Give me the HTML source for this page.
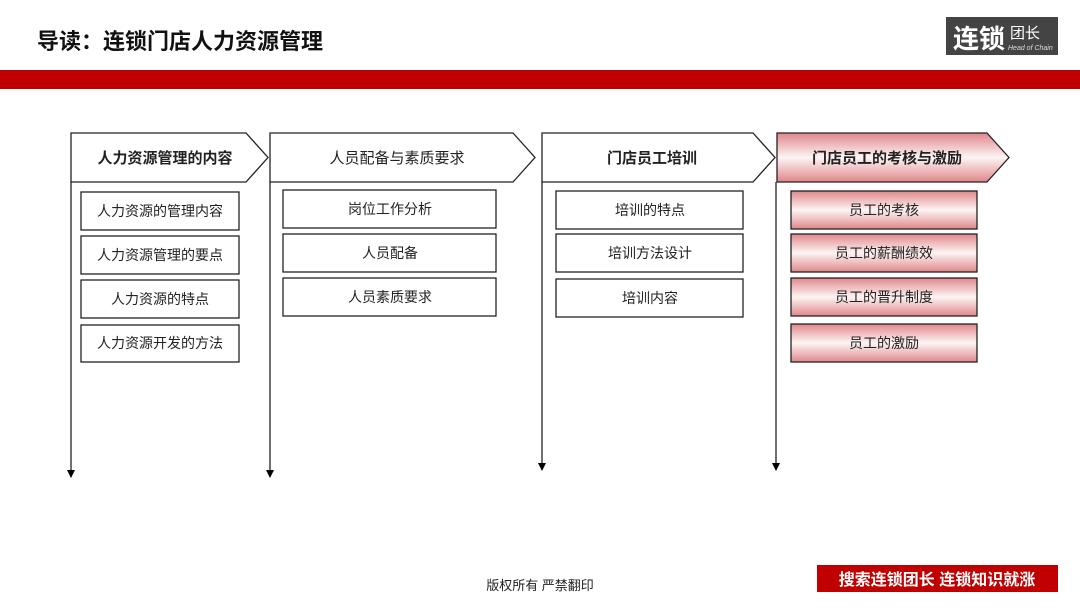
<!DOCTYPE html>
<html><head><meta charset="utf-8">
<style>
html,body{margin:0;padding:0;background:#fff;}
svg{display:block;font-family:"Liberation Sans","Noto Sans CJK SC",sans-serif;}
</style></head>
<body>
<svg width="1080" height="608" viewBox="0 0 1080 608" xmlns="http://www.w3.org/2000/svg">
<defs>
<linearGradient id="pk" x1="0" y1="0" x2="0" y2="1">
<stop offset="0" stop-color="#e0878a"/>
<stop offset="0.5" stop-color="#fdf4f4"/>
<stop offset="1" stop-color="#e0878a"/>
</linearGradient>
<marker id="ar" markerWidth="8" markerHeight="8" refX="7" refY="4" orient="auto" markerUnits="userSpaceOnUse">
<path d="M0,0 L8,4 L0,8 z" fill="#000"/>
</marker>
</defs>
<rect width="1080" height="608" fill="#fff"/>
<text x="37" y="49" font-size="22" font-weight="bold" fill="#111">导读：连锁门店人力资源管理</text>
<rect x="946" y="17" width="112" height="38" fill="#444"/>
<text x="953" y="48" font-size="26" font-weight="bold" fill="#fff">连锁</text>
<text x="1010" y="38" font-size="15" fill="#fff">团长</text>
<text x="1008" y="50" font-size="7" font-style="italic" fill="#ddd">Head of Chain</text>
<rect x="0" y="70" width="1080" height="19" fill="#c00000"/>

<g stroke="#222" stroke-width="1.3" fill="#fff">
<line x1="71" y1="182" x2="71" y2="477" marker-end="url(#ar)"/>
<line x1="270" y1="182" x2="270" y2="477" marker-end="url(#ar)"/>
<line x1="542" y1="182" x2="542" y2="470" marker-end="url(#ar)"/>
<line x1="776" y1="182" x2="776" y2="470" marker-end="url(#ar)"/>
<path d="M71,133 H246 L268,157.5 L246,182 H71 Z"/>
<path d="M270,133 H513 L535,157.5 L513,182 H270 Z"/>
<path d="M542,133 H753 L775,157.5 L753,182 H542 Z"/>
<path d="M777,133 H987 L1009,157.5 L987,182 H777 Z" fill="url(#pk)"/>
<rect x="81" y="192" width="158" height="38"/>
<rect x="81" y="236" width="158" height="38"/>
<rect x="81" y="280" width="158" height="38"/>
<rect x="81" y="325" width="158" height="37"/>
<rect x="283" y="190" width="213" height="38"/>
<rect x="283" y="234" width="213" height="38"/>
<rect x="283" y="278" width="213" height="38"/>
<rect x="556" y="191" width="187" height="38"/>
<rect x="556" y="234" width="187" height="38"/>
<rect x="556" y="279" width="187" height="38"/>
<g fill="url(#pk)">
<rect x="791" y="191" width="186" height="38"/>
<rect x="791" y="234" width="186" height="38"/>
<rect x="791" y="278" width="186" height="38"/>
<rect x="791" y="324" width="186" height="38"/>
</g>
</g>

<g font-size="14" fill="#222" text-anchor="middle">
<text x="165" y="163" font-weight="bold" font-size="15">人力资源管理的内容</text>
<text x="397" y="163" font-size="15">人员配备与素质要求</text>
<text x="652" y="163" font-weight="bold" font-size="15">门店员工培训</text>
<text x="887" y="163" font-weight="bold" font-size="15">门店员工的考核与激励</text>
<text x="160" y="216">人力资源的管理内容</text>
<text x="160" y="260">人力资源管理的要点</text>
<text x="160" y="304">人力资源的特点</text>
<text x="160" y="348">人力资源开发的方法</text>
<text x="390" y="214">岗位工作分析</text>
<text x="390" y="258">人员配备</text>
<text x="390" y="302">人员素质要求</text>
<text x="650" y="215">培训的特点</text>
<text x="650" y="258">培训方法设计</text>
<text x="650" y="303">培训内容</text>
<text x="884" y="215">员工的考核</text>
<text x="884" y="258">员工的薪酬绩效</text>
<text x="884" y="302">员工的晋升制度</text>
<text x="884" y="348">员工的激励</text>
</g>

<text x="540" y="590" font-size="13" fill="#222" text-anchor="middle">版权所有  严禁翻印</text>
<rect x="817" y="565" width="241" height="27" fill="#c00000"/>
<text x="937" y="585" font-size="16" font-weight="bold" fill="#fff" text-anchor="middle">搜索连锁团长  连锁知识就涨</text>
</svg>
</body></html>
